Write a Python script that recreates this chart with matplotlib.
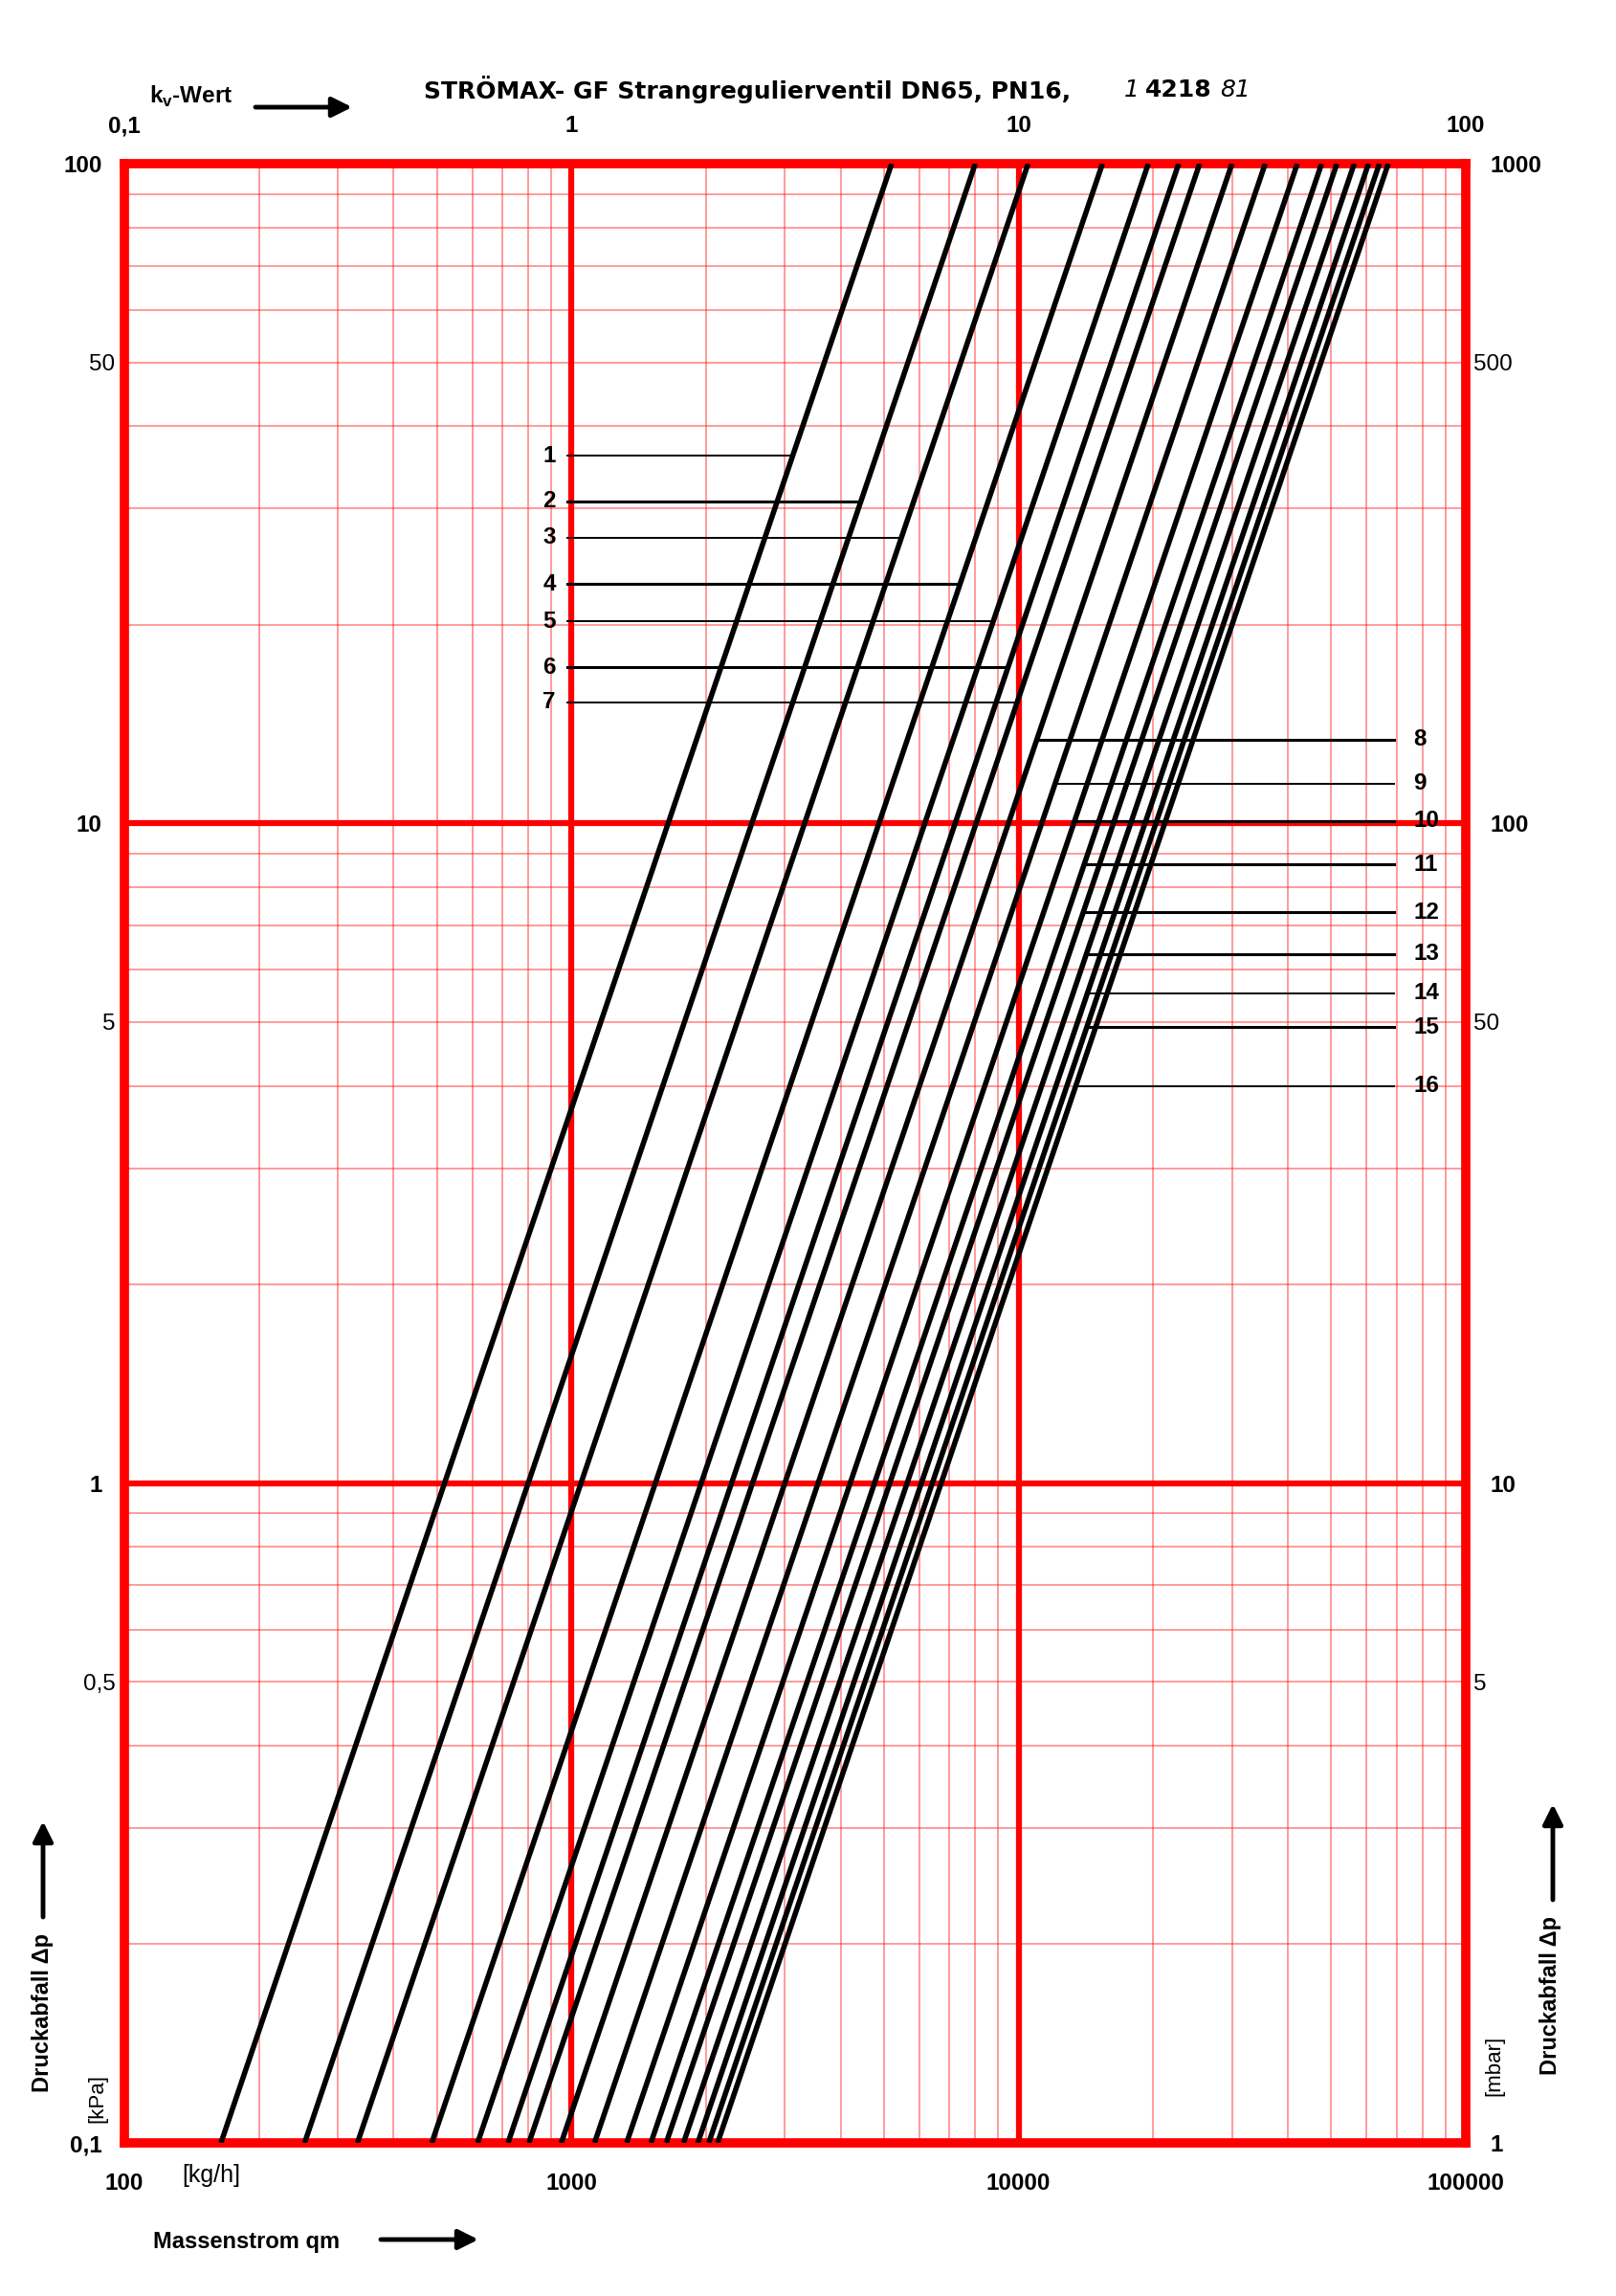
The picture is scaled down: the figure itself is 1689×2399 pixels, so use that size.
import numpy as np
import matplotlib.pyplot as plt
from matplotlib.patches import FancyArrowPatch

plt.rcParams['font.family'] = ['Liberation Sans', 'DejaVu Sans']

# kv of each valve setting (where the line meets dp = 100 kPa on the kv scale)
kv_values = [5.2, 8.0, 10.5, 15.4, 19.5, 22.8, 25.4, 30.0, 35.6, 42.0, 47.6, 51.5, 56.3, 60.6, 64.1, 67.1]
setting_labels = [str(i) for i in range(1, 17)]
# pressure drop [kPa] at which the label leader of each setting sits
leader_dp = [36.1, 30.8, 27.1, 23.05, 20.25, 17.24, 15.25, 13.4, 11.49, 10.09, 8.66, 7.33, 6.34, 5.53, 4.91, 4.0]
leader_thick = [False, True, False, True, False, True, False, True, False, True, True, True, True, False, True, False]

dp_ticks = [0.1, 1, 10, 100]
dp_labels = ['0,1', '1', '10', '100']
dp_ticks_minor = [0.5, 5, 50]
dp_labels_minor = ['0,5', '5', '50']
mbar_ticks = [1, 10, 100, 1000]
mbar_labels = ['1', '10', '100', '1000']
mbar_ticks_minor = [5, 50, 500]
mbar_labels_minor = ['5', '50', '500']
qm_ticks = [100, 1000, 10000, 100000]
qm_labels = ['100', '1000', '10000', '100000']
kv_ticks = [0.1, 1, 10, 100]
kv_labels = ['0,1', '1', '10', '100']

W, H = 1689, 2399
FS = 17.5


def fx(px):
    return px / W


def fy(py):
    return 1 - py / H


fig = plt.figure(figsize=(W / 100, H / 100), dpi=100)
ax = fig.add_axes([fx(130), fy(2239), (1532 - 130) / W, (2239 - 171) / H])
ax.set_xscale('log')
ax.set_yscale('log')
ax.set_xlim(100, 100000)
ax.set_ylim(0.1, 100)

# red log paper grid
for d in [100, 1000, 10000]:
    for k in range(2, 10):
        ax.axvline(k * d, color='red', lw=1.1, alpha=0.5, zorder=1)
for d in [0.1, 1, 10]:
    for k in range(2, 10):
        ax.axhline(k * d, color='red', lw=1.1, alpha=0.5, zorder=1)
for v in [1000, 10000]:
    ax.axvline(v, color='red', lw=4.5, zorder=2)
for v in [1, 10]:
    ax.axhline(v, color='red', lw=4.5, zorder=2)

# dp = 100 kPa * (qm / (1000 kv))^2
dp_line = np.array([0.1, 100])
for kv in kv_values:
    qm = kv * 1000 * np.sqrt(dp_line / 100)
    ax.plot(qm, dp_line, color='black', lw=4, solid_capstyle='butt', zorder=3)

# leader lines and setting numbers
for i, (kv, dp, lab, thick) in enumerate(zip(kv_values, leader_dp, setting_labels, leader_thick)):
    q = kv * 1000 * np.sqrt(dp / 100)
    lw = 2.2 if thick else 1.4
    if i < 7:
        ax.plot([979, q], [dp, dp], color='black', lw=lw, zorder=3)
        ax.text(891, dp, lab, ha='center', va='center', fontsize=FS, fontweight='bold', zorder=4)
    else:
        ax.plot([q, 69150], [dp, dp], color='black', lw=lw, zorder=3)
        ax.text(76300, dp, lab, ha='left', va='center', fontsize=FS, fontweight='bold', zorder=4)

for s in ax.spines.values():
    s.set_color('red')
    s.set_linewidth(7)

ax.set_xticks(qm_ticks, qm_labels, fontsize=FS, fontweight='bold')
ax.set_xticks([], minor=True)
ax.set_yticks(dp_ticks, dp_labels, fontsize=FS, fontweight='bold')
ax.set_yticks(dp_ticks_minor, dp_labels_minor, minor=True, fontsize=FS)
ax.tick_params(which='both', length=0)
ax.tick_params(axis='x', which='major', pad=22)
ax.tick_params(axis='y', which='major', pad=17)
ax.tick_params(axis='y', which='minor', pad=7)

# mbar scale on the right
secy = ax.secondary_yaxis('right', functions=(lambda y: y * 10, lambda y: y / 10))
secy.set_yticks(mbar_ticks, mbar_labels, fontsize=FS, fontweight='bold')
secy.set_yticks(mbar_ticks_minor, mbar_labels_minor, minor=True, fontsize=FS)
secy.tick_params(which='both', length=0)
secy.tick_params(which='major', pad=18)
secy.tick_params(which='minor', pad=6)
for s in secy.spines.values():
    s.set_visible(False)

# kv scale on top
secx = ax.secondary_xaxis('top', functions=(lambda q: q / 1000, lambda k: k * 1000))
secx.set_xticks(kv_ticks, kv_labels, fontsize=FS, fontweight='bold')
secx.set_xticks([], minor=True)
secx.tick_params(which='both', length=0, pad=20)
for s in secx.spines.values():
    s.set_visible(False)

# title
fig.text(fx(781), fy(94), 'STRÖMAX- GF Strangregulierventil DN65, PN16,', ha='center', va='center',
         fontsize=18, fontweight='bold', family='DejaVu Sans')
fig.text(fx(1183), fy(94), '1', ha='center', va='center', fontsize=18, style='italic', family='DejaVu Sans')
fig.text(fx(1232), fy(94), '4218', ha='center', va='center', fontsize=18, fontweight='bold', family='DejaVu Sans')
fig.text(fx(1291), fy(94), '81', ha='center', va='center', fontsize=18, style='italic', family='DejaVu Sans')

fig.text(fx(156), fy(101), r'k$_\mathregular{v}$-Wert', ha='left', va='center', fontsize=17.5, fontweight='bold')
fig.text(fx(190), fy(2273), '[kg/h]', ha='left', va='center', fontsize=18)
fig.text(fx(160), fy(2342), 'Massenstrom qm', ha='left', va='center', fontsize=17, fontweight='bold')
fig.text(fx(45), fy(2103), 'Druckabfall Δp', rotation=90, ha='center', va='center', fontsize=17, fontweight='bold')
fig.text(fx(102), fy(2193), '[kPa]', rotation=90, ha='center', va='center', fontsize=16)
fig.text(fx(1620), fy(2085), 'Druckabfall Δp', rotation=90, ha='center', va='center', fontsize=17, fontweight='bold')
fig.text(fx(1562), fy(2158), '[mbar]', rotation=90, ha='center', va='center', fontsize=16)

# arrows
for (x0, y0, x1, y1) in [(267, 112, 368, 112), (398, 2340, 500, 2340),
                         (45, 2003, 45, 1903), (1623, 1985, 1623, 1885)]:
    fig.add_artist(FancyArrowPatch((fx(x0), fy(y0)), (fx(x1), fy(y1)), transform=fig.transFigure,
                                   arrowstyle='-|>,head_length=0.5,head_width=0.25', mutation_scale=25,
                                   lw=3.5, color='black', shrinkA=0, shrinkB=0))

fig.savefig('out.png', dpi=100)
